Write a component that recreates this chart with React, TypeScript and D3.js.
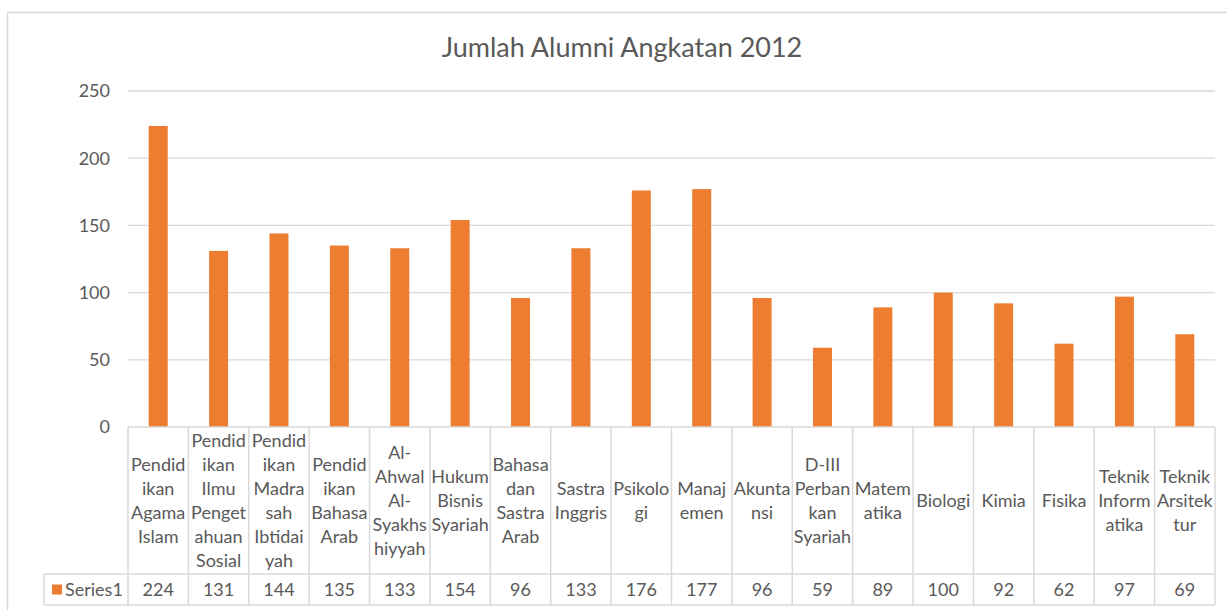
import React, { useEffect, useRef } from 'react';
import * as d3 from 'd3';

const title = 'Jumlah Alumni Angkatan 2012';
const seriesName = 'Series1';
const categories = [
  'Pendid|ikan|Agama|Islam',
  'Pendid|ikan|Ilmu|Penget|ahuan|Sosial',
  'Pendid|ikan|Madra|sah|Ibtidai|yah',
  'Pendid|ikan|Bahasa|Arab',
  'Al-|Ahwal|Al-|Syakhs|hiyyah',
  'Hukum|Bisnis|Syariah',
  'Bahasa|dan|Sastra|Arab',
  'Sastra|Inggris',
  'Psikolo|gi',
  'Manaj|emen',
  'Akunta|nsi',
  'D-III|Perban|kan|Syariah',
  'Matem|atika',
  'Biologi',
  'Kimia',
  'Fisika',
  'Teknik|Inform|atika',
  'Teknik|Arsitek|tur',
];
const values = [224, 131, 144, 135, 133, 154, 96, 133, 176, 177, 96, 59, 89, 100, 92, 62, 97, 69];
const yTicks = [0, 50, 100, 150, 200, 250];

const W = 1227;
const H = 610;
const FONT = 'Lato, "Open Sans", sans-serif';
const TXT = '#595959';
const GRID = '#D9D9D9';
const BAR = '#ED7D31';

const App = () => {
  const ref = useRef<SVGSVGElement>(null);

  useEffect(() => {
    const svg = d3.select(ref.current);
    svg.selectAll('*').remove();

    const left = 128, right = 1215, top = 91, base = 427;
    const headBottom = 574, rowBottom = 605;

    // chart frame
    svg.append('rect')
      .attr('x', 7.5).attr('y', 12.5)
      .attr('width', W + 20).attr('height', H + 20)
      .attr('fill', '#fff').attr('stroke', GRID).attr('stroke-width', 1.5);

    svg.append('text')
      .attr('x', 622).attr('y', 57)
      .attr('text-anchor', 'middle')
      .attr('font-family', FONT).attr('font-size', 27)
      .attr('fill', TXT)
      .text(title);

    const x = d3.scaleBand<number>()
      .domain(d3.range(categories.length))
      .range([left, right])
      .paddingInner(0).paddingOuter(0);

    const y = d3.scaleLinear().domain([0, 250]).range([base, top]);

    // gridlines
    svg.append('g').selectAll('line')
      .data(yTicks.filter(d => d > 0))
      .enter().append('line')
      .attr('x1', left).attr('x2', right)
      .attr('y1', d => y(d)).attr('y2', d => y(d))
      .attr('stroke', GRID).attr('stroke-width', 1.3);

    // y labels
    svg.append('g').selectAll('text')
      .data(yTicks)
      .enter().append('text')
      .attr('x', 110).attr('y', d => y(d))
      .attr('dy', '0.35em')
      .attr('text-anchor', 'end')
      .attr('font-family', FONT).attr('font-size', 18)
      .attr('fill', TXT)
      .text(d => d);

    // bars
    const bw = 19;
    svg.append('g').selectAll('rect')
      .data(values)
      .enter().append('rect')
      .attr('x', (d, i) => x(i)! + x.bandwidth() / 2 - bw / 2)
      .attr('y', d => y(d))
      .attr('width', bw)
      .attr('height', d => base - y(d))
      .attr('fill', BAR);

    // data table grid
    const tg = svg.append('g').attr('stroke', GRID).attr('stroke-width', 1.5);
    tg.append('line').attr('x1', left).attr('x2', right).attr('y1', base).attr('y2', base);
    tg.append('line').attr('x1', 44).attr('x2', right).attr('y1', headBottom).attr('y2', headBottom);
    tg.append('line').attr('x1', 44).attr('x2', right).attr('y1', rowBottom).attr('y2', rowBottom);
    tg.append('line').attr('x1', 44).attr('x2', 44).attr('y1', headBottom).attr('y2', rowBottom);
    tg.selectAll('line.v')
      .data(d3.range(categories.length + 1))
      .enter().append('line')
      .attr('class', 'v')
      .attr('x1', i => left + i * x.bandwidth()).attr('x2', i => left + i * x.bandwidth())
      .attr('y1', base).attr('y2', rowBottom);

    // category labels
    const lh = 24;
    const mid = (base + headBottom) / 2;
    const cat = svg.append('g')
      .attr('font-family', FONT).attr('font-size', 18)
      .attr('fill', TXT).attr('text-anchor', 'middle');
    categories.forEach((c, i) => {
      const lines = c.split('|');
      const cx = x(i)! + x.bandwidth() / 2;
      const y0 = mid - ((lines.length - 1) * lh) / 2;
      const t = cat.append('text');
      lines.forEach((ln, k) => {
        t.append('tspan').attr('x', cx).attr('y', y0 + k * lh).attr('dy', '0.35em').text(ln);
      });
    });

    // values row
    const rowMid = (headBottom + rowBottom) / 2;
    svg.append('g').selectAll('text')
      .data(values)
      .enter().append('text')
      .attr('x', (d, i) => x(i)! + x.bandwidth() / 2)
      .attr('y', rowMid).attr('dy', '0.35em')
      .attr('text-anchor', 'middle')
      .attr('font-family', FONT).attr('font-size', 18)
      .attr('fill', TXT)
      .text(d => d);

    // legend key
    svg.append('rect')
      .attr('x', 52).attr('y', rowMid - 5).attr('width', 10).attr('height', 10)
      .attr('fill', BAR);
    svg.append('text')
      .attr('x', 65).attr('y', rowMid).attr('dy', '0.35em')
      .attr('font-family', FONT).attr('font-size', 18)
      .attr('fill', TXT)
      .text(seriesName);
  }, []);

  return (
    <svg ref={ref} width={W} height={H}
      style={{ position: 'absolute', left: 0, top: 0, background: '#fff' }} />
  );
};

export default App;
